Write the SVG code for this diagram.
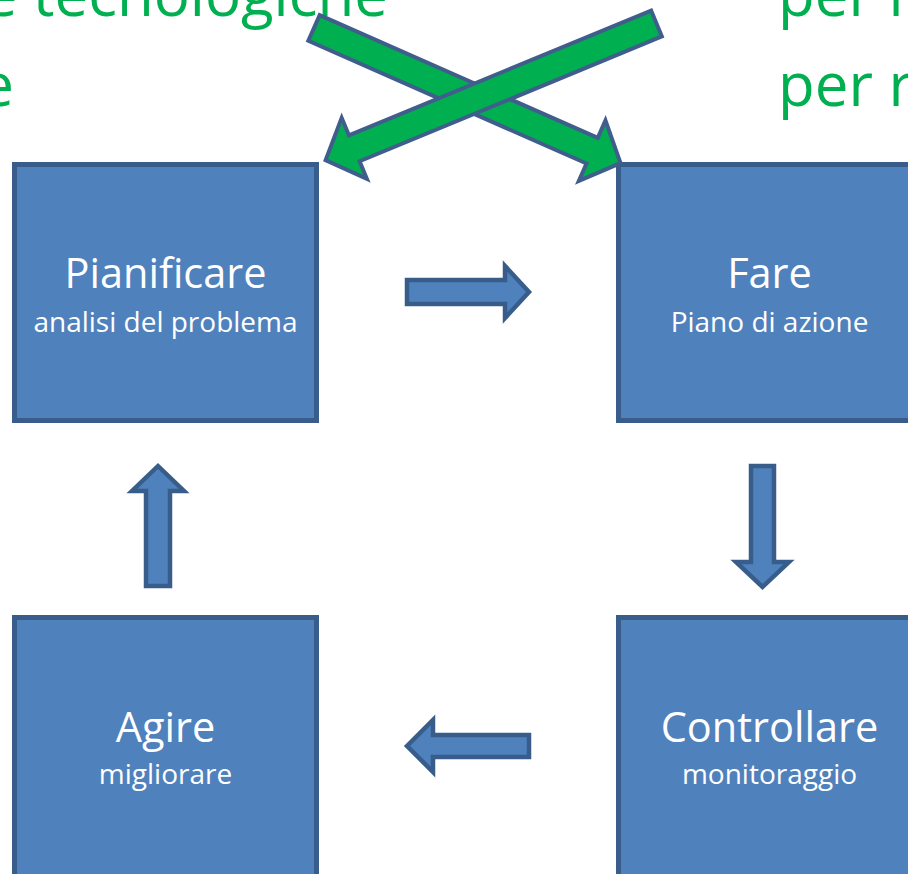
<svg xmlns="http://www.w3.org/2000/svg" width="908" height="874" viewBox="0 0 908 874">
<defs>
<style>
.box{fill:#4F81BD;stroke:#385D8A;stroke-width:5}
.barrow{fill:#4F81BD;stroke:#385D8A;stroke-width:4.5;stroke-linejoin:miter}
.garrow{fill:#00B050;stroke:#3F5E8C;stroke-width:4;stroke-linejoin:miter}
.t{font-family:"Open Sans","Liberation Sans",sans-serif;fill:#FFFFFF;text-anchor:middle}
.title{font-size:41.5px}
.sub{font-size:28px}
.g{font-family:"Open Sans","Liberation Sans",sans-serif;fill:#00B050;font-size:60px}
</style>
</defs>
<rect width="908" height="874" fill="#FFFFFF"/>
<g id="bg-text">
<text class="g" x="388" y="16" text-anchor="end">e tecnologiche</text>
<text class="g" x="14" y="106" text-anchor="end">e</text>
<text class="g" x="778" y="16">per r</text>
<text class="g" x="778" y="106">per r</text>
</g>
<g id="pianificare">
<rect class="box" x="14.5" y="164.5" width="302" height="256"/>
<text class="t title" x="165.5" y="288">Pianificare</text>
<text class="t sub" x="165.5" y="332">analisi del problema</text>
</g>
<g id="fare">
<rect class="box" x="618.5" y="164.5" width="302" height="256"/>
<text class="t title" x="769.5" y="288">Fare</text>
<text class="t sub" x="769.5" y="332">Piano di azione</text>
</g>
<g id="agire">
<rect class="box" x="14.5" y="617.5" width="302" height="280"/>
<text class="t title" x="165.5" y="742">Agire</text>
<text class="t sub" x="165.5" y="784">migliorare</text>
</g>
<g id="controllare">
<rect class="box" x="618.5" y="617.5" width="302" height="280"/>
<text class="t title" x="769.5" y="742">Controllare</text>
<text class="t sub" x="769.5" y="784">monitoraggio</text>
</g>
<g id="connectors">
<polygon class="barrow" points="407,280 505,280 505,266 529,292 505,318 505,304 407,304"/>
<polygon class="barrow" points="751,466 774,466 774,562 789,562 762.5,587 736,562 751,562"/>
<polygon class="barrow" points="407,746 433,720 433,735 529,735 529,757 433,757 433,772"/>
<polygon class="barrow" points="158,466 184,491 170,491 170,586 146,586 146,491 132,491"/>
<polygon class="garrow" transform="translate(314,28) rotate(23.8)" points="0,-14 304,-14 304,-33 335,0 304,33 304,14 0,14"/>
<polygon class="garrow" transform="translate(656.5,23.5) rotate(157.56)" points="0,-14 327,-14 327,-33 358,0 327,33 327,14 0,14"/>
</g>
</svg>
